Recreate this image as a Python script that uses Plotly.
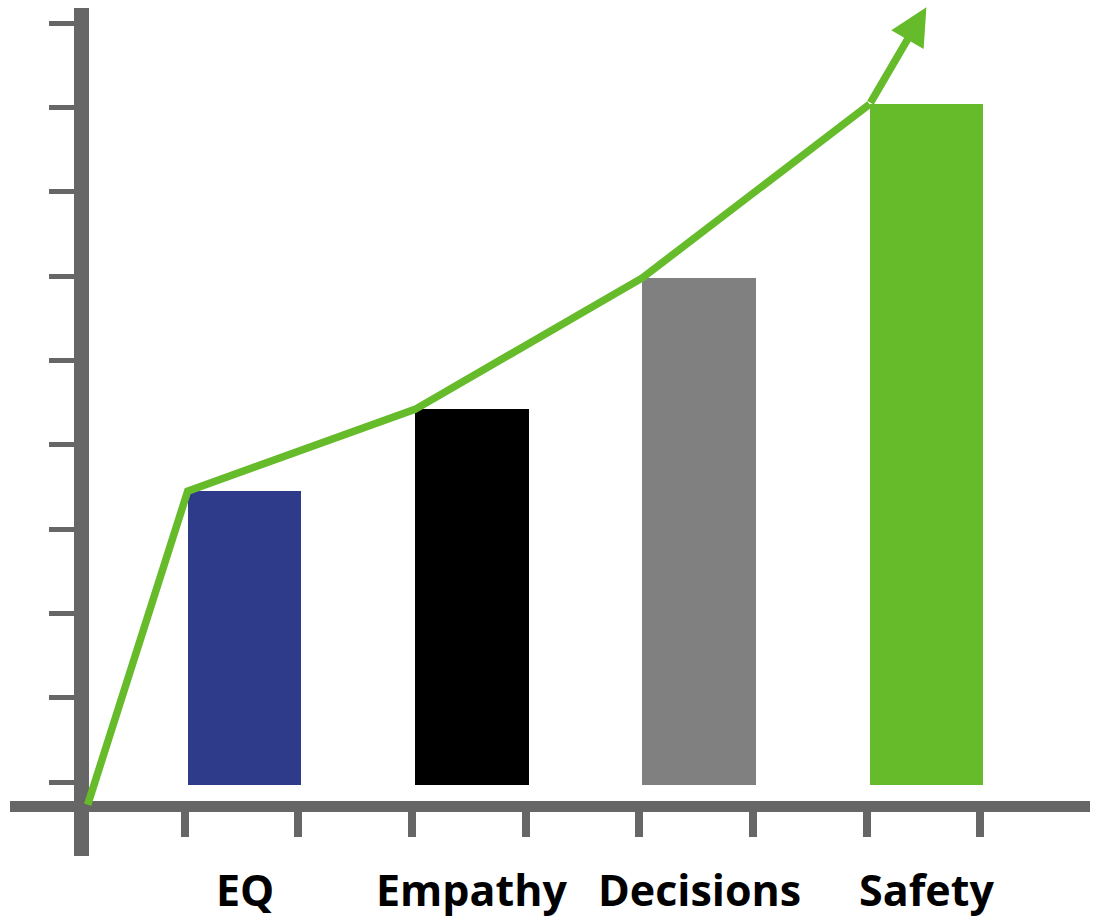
import plotly.graph_objects as go

# Chart data
categories = ["EQ", "Empathy", "Decisions", "Safety"]
values = [3.45, 4.42, 5.98, 8.04]
bar_colors = ["#2E3A8A", "#000000", "#808080", "#66BB2A"]
trend_start = -0.27   # where the trend line leaves the axis
trend_end = 9.19      # arrow tip above the last bar
y_tick_values = list(range(10))

W, H = 1094, 918
AXIS_GREY = "#666666"
GREEN = "#66BB2A"
BAR_WIDTH = 0.5
BAR_BASE = -0.04
TREND_WIDTH = 7.5

positions = [i + 1 for i in range(len(categories))]

# Scale: pixels per unit, chosen so the plot fills the page
px_per_x = 227.3
x0_px = 17.2
x_range = [-x0_px / px_per_x, (W - x0_px) / px_per_x]
px_per_y = 84.3
y0_px = 782
y_range = [-(H - y0_px) / px_per_y, y0_px / px_per_y]


def xfrac(px):
    return px / W


def yfrac(px):
    return 1 - px / H


fig = go.Figure()

fig.add_trace(go.Bar(
    x=positions, y=[v - BAR_BASE for v in values], base=BAR_BASE,
    width=BAR_WIDTH, marker=dict(color=bar_colors, line=dict(width=0)),
    hoverinfo="skip", showlegend=False,
))

# Trend line running along the top-left corners of the bars
left_edges = [p - BAR_WIDTH / 2 for p in positions]
trend_x = [0.31] + left_edges + [left_edges[-1] + 0.25]
trend_y = [trend_start] + values + [trend_end]
fig.add_trace(go.Scatter(
    x=trend_x[:-1], y=trend_y[:-1], mode="lines",
    line=dict(color=GREEN, width=TREND_WIDTH),
    hoverinfo="skip", showlegend=False,
))

# Tick positions on the category axis sit at the bar edges
edge_ticks = []
for p in positions:
    edge_ticks += [p - BAR_WIDTH / 2 - 0.013, p + BAR_WIDTH / 2 - 0.013]

shapes = [
    # vertical axis bar
    dict(type="rect", xref="paper", yref="paper",
         x0=xfrac(74), x1=xfrac(89), y0=yfrac(856), y1=yfrac(8),
         fillcolor=AXIS_GREY, line=dict(width=0), layer="below"),
    # horizontal axis bar
    dict(type="rect", xref="paper", yref="paper",
         x0=xfrac(10), x1=xfrac(1090), y0=yfrac(812), y1=yfrac(801),
         fillcolor=AXIS_GREY, line=dict(width=0), layer="below"),
]

annotations = [
    dict(x=p, y=yfrac(889), xref="x", yref="paper", text=f"<b>{c}</b>",
         showarrow=False, xanchor="center", yanchor="middle",
         font=dict(family="Open Sans", size=43, color="#000000"))
    for p, c in zip(positions, categories)
]

# Final segment of the trend drawn as an arrow
annotations.append(dict(
    x=trend_x[-1], y=trend_y[-1], xref="x", yref="y",
    ax=trend_x[-2], ay=trend_y[-2], axref="x", ayref="y",
    text="", showarrow=True, arrowhead=2, arrowsize=1.0,
    arrowwidth=TREND_WIDTH, arrowcolor=GREEN, standoff=0, startstandoff=0,
))

fig.update_layout(
    width=W, height=H, margin=dict(l=0, r=0, t=0, b=0),
    paper_bgcolor="white", plot_bgcolor="white",
    shapes=shapes, annotations=annotations, bargap=0,
    xaxis=dict(range=x_range, domain=[0, 1], anchor="free", position=yfrac(811),
               tickvals=edge_ticks, ticks="outside", ticklen=25, tickwidth=8,
               tickcolor=AXIS_GREY, showticklabels=False, showgrid=False,
               zeroline=False, showline=False, fixedrange=True),
    yaxis=dict(range=y_range, domain=[0, 1], anchor="free", position=xfrac(74),
               tickvals=y_tick_values, ticks="outside", ticklen=25, tickwidth=5,
               tickcolor=AXIS_GREY, showticklabels=False, showgrid=False,
               zeroline=False, showline=False, fixedrange=True),
)

fig.write_html("out.html")
